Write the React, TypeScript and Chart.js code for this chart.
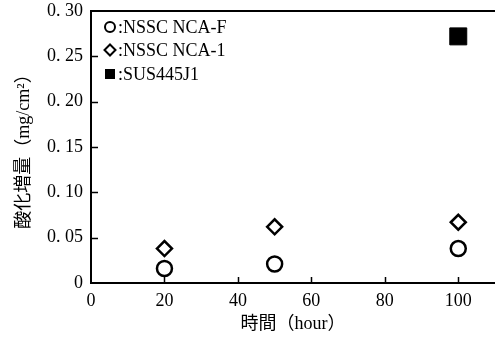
import React, { useEffect, useRef } from "react";
import { Chart, registerables } from "chart.js";

Chart.register(...registerables);

const seriesNames = ["NSSC NCA-F", "NSSC NCA-1", "SUS445J1"];
const ncaFHours = [20, 50, 100];
const ncaFGain = [0.016, 0.021, 0.038];
const nca1Hours = [20, 50, 100];
const nca1Gain = [0.038, 0.062, 0.067];
const susHours = [100];
const susGain = [0.272];

const xTickValues = [0, 20, 40, 60, 80, 100];
const xTickLabels = ["0", "20", "40", "60", "80", "100"];
const yTickValues = [0, 0.05, 0.1, 0.15, 0.2, 0.25, 0.3];
const yTickLabels = ["0", "0. 05", "0. 10", "0. 15", "0. 20", "0. 25", "0. 30"];
const xTitle = "時間（hour）";
const yTitle = "酸化増量（mg/cm²）";

const FAMILY = "'Liberation Serif', 'Noto Sans CJK JP', serif";

const framePlugin = {
  id: "frameAndLegend",
  beforeDatasetsDraw(chart: any) {
    const { ctx, chartArea, scales } = chart;
    ctx.save();
    ctx.strokeStyle = "#000";
    ctx.lineWidth = 2;
    ctx.beginPath();
    ctx.moveTo(chartArea.left, chartArea.top);
    ctx.lineTo(chartArea.right, chartArea.top);
    ctx.stroke();
    ctx.lineWidth = 1.5;
    ctx.beginPath();
    xTickValues.forEach((v) => {
      if (v === 0) return;
      const px = Math.round(scales.x.getPixelForValue(v)) + 0.5;
      ctx.moveTo(px, chartArea.bottom);
      ctx.lineTo(px, chartArea.bottom - 6);
    });
    yTickValues.forEach((v) => {
      if (v === 0 || v === 0.3) return;
      const py = Math.round(scales.y.getPixelForValue(v)) + 0.5;
      ctx.moveTo(chartArea.left, py);
      ctx.lineTo(chartArea.left + 7, py);
    });
    ctx.stroke();
    ctx.restore();
  },
  afterDraw(chart: any) {
    const { ctx } = chart;
    ctx.save();
    ctx.fillStyle = "#000";
    ctx.strokeStyle = "#000";
    ctx.font = `18px ${FAMILY}`;
    ctx.textBaseline = "middle";
    ctx.textAlign = "left";
    const rows = [27, 50, 74];
    const mx = 110;
    seriesNames.forEach((name, i) => {
      const y = rows[i];
      ctx.lineWidth = 2;
      ctx.beginPath();
      if (i === 0) {
        ctx.arc(mx, y, 5, 0, Math.PI * 2);
        ctx.stroke();
      } else if (i === 1) {
        ctx.moveTo(mx, y - 5.5);
        ctx.lineTo(mx + 5.5, y);
        ctx.lineTo(mx, y + 5.5);
        ctx.lineTo(mx - 5.5, y);
        ctx.closePath();
        ctx.stroke();
      } else {
        ctx.fillRect(mx - 5, y - 5, 10, 10);
      }
      ctx.fillText(":" + name, 118, y + 1);
    });
    ctx.restore();
  },
};

export default function App() {
  const ref = useRef<HTMLCanvasElement | null>(null);

  useEffect(() => {
    if (!ref.current) return;
    const font = { family: FAMILY, size: 18 };
    const chart = new Chart(ref.current, {
      type: "scatter",
      data: {
        datasets: [
          {
            label: seriesNames[0],
            data: ncaFHours.map((x, i) => ({ x, y: ncaFGain[i] })),
            pointStyle: "circle",
            radius: 7.5,
            borderWidth: 2.5,
            borderColor: "#000",
            backgroundColor: "#fff",
          },
          {
            label: seriesNames[1],
            data: nca1Hours.map((x, i) => ({ x, y: nca1Gain[i] })),
            pointStyle: "rectRot",
            radius: 7.5,
            borderWidth: 2.5,
            borderColor: "#000",
            backgroundColor: "#fff",
          },
          {
            label: seriesNames[2],
            data: susHours.map((x, i) => ({ x, y: susGain[i] })),
            pointStyle: "rect",
            radius: 12,
            borderWidth: 1,
            borderColor: "#000",
            backgroundColor: "#000",
          },
        ],
      } as any,
      options: {
        animation: false,
        responsive: false,
        layout: { autoPadding: false, padding: { top: 11, right: 0, left: 0, bottom: 0 } },
        plugins: {
          legend: { display: false },
          tooltip: { enabled: false },
        },
        scales: {
          x: {
            type: "linear",
            min: 0,
            max: 110,
            afterBuildTicks: (s: any) => {
              s.ticks = xTickValues.map((v) => ({ value: v }));
            },
            afterFit: (s: any) => {
              s.height = 56;
              s.paddingRight = 0;
              s.paddingLeft = 0;
            },
            ticks: {
              font,
              color: "#000",
              padding: 7,
              maxRotation: 0,
              callback: (_v: any, i: number) => xTickLabels[i],
            },
            grid: { display: false, drawTicks: false },
            border: { display: true, color: "#000", width: 2 },
            title: {
              display: true,
              text: xTitle,
              font,
              color: "#000",
              padding: { top: 0, bottom: 4 },
            },
          },
          y: {
            type: "linear",
            min: 0,
            max: 0.3,
            afterBuildTicks: (s: any) => {
              s.ticks = yTickValues.map((v) => ({ value: v }));
            },
            afterFit: (s: any) => {
              s.width = 91;
              s.paddingTop = 0;
              s.paddingBottom = 0;
            },
            ticks: {
              font,
              color: "#000",
              padding: 8,
              callback: (_v: any, i: number) => yTickLabels[i],
            },
            grid: { display: false, drawTicks: false },
            border: { display: true, color: "#000", width: 2 },
            title: {
              display: true,
              text: yTitle,
              font,
              color: "#000",
              padding: { top: 13, bottom: 0 },
            },
          },
        },
      } as any,
      plugins: [framePlugin],
    });
    return () => chart.destroy();
  }, []);

  return (
    <div style={{ position: "absolute", left: 0, top: 0, width: 495, height: 339, background: "#fff" }}>
      <canvas ref={ref} width={495} height={339} />
    </div>
  );
}
